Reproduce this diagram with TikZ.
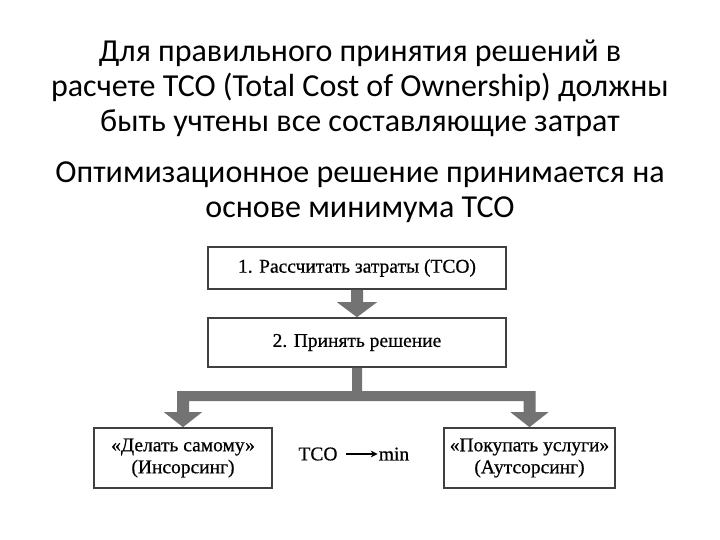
\documentclass[tikz,border=0pt]{standalone}
\usepackage{fontspec}
\setmainfont{Liberation Serif}
\newfontfamily\scanfont[FakeBold=0.6]{Liberation Serif}
\newfontfamily\titlefont{Carlito}
\usetikzlibrary{calc,arrows.meta}
\definecolor{arrowgray}{gray}{0.45}
\definecolor{boxgray}{gray}{0.25}
\begin{document}
\begin{tikzpicture}[x=1pt,y=-1pt,
  titletext/.style={font=\titlefont\fontsize{32}{35}\selectfont, align=center, inner sep=0pt},
  flowbox/.style={draw=boxgray, line width=1.6pt, minimum width=298pt, inner sep=0pt, font=\scanfont\fontsize{19.5}{23}\selectfont},
  sidebox/.style={draw=boxgray, line width=1.6pt, inner sep=0pt, align=center, font=\scanfont\fontsize{19.5}{22}\selectfont},
  bigarrow/.style={fill=arrowgray, draw=none}]
\useasboundingbox (0,0) rectangle (720,540);
\fill[white] (0,0) rectangle (720,540);
\node[titletext] (t1) at (360,88) {Для правильного принятия решений в\\расчете TCO (Total Cost of Ownership) должны\\быть учтены все составляющие затрат};
\node[titletext] (t2) at (360,192) {Оптимизационное решение принимается на\\основе минимума TCO};
\node[flowbox, minimum height=42pt] (b1) at (357,268) {1. Рассчитать затраты (TCO)};
\node[flowbox, minimum height=49pt] (b2) at (357,342.5) {2. Принять решение};
\node[sidebox, minimum width=178pt, minimum height=60pt] (b3) at (183,458) {«Делать самому»\\(Инсорсинг)};
\node[sidebox, minimum width=171pt, minimum height=60pt] (b4) at (529.5,458) {«Покупать услуги»\\(Аутсорсинг)};
\node[inner sep=1pt, font=\scanfont\fontsize{19.5}{22}\selectfont] (tco) at (318,454) {TCO};
\node[inner sep=1pt, font=\scanfont\fontsize{19.5}{22}\selectfont] (mn) at (394,454) {min};
\draw[line width=1.4pt, -{Stealth[length=7pt,width=7pt]}] ($(tco.east)+(7,0)$) -- (mn.west);
% arrow 1
\fill[bigarrow] ($(b1.south)+(-6,0)$) -- ($(b2.north)+(-6,-15)$) -- ($(b2.north)+(-20,-15)$)
  -- (b2.north) -- ($(b2.north)+(20,-15)$) -- ($(b2.north)+(6,-15)$) -- ($(b1.south)+(6,0)$) -- cycle;
% split arrow
\coordinate (s) at (b2.south);
\coordinate (l) at (b3.north);
\coordinate (r) at (b4.north);
\coordinate (sl) at ($(s)+(-5,0)$);
\coordinate (sr) at ($(s)+(5,0)$);
\coordinate (bar) at ($(l)+(0,-36)$);
\fill[bigarrow] (sl) -- (sl |- bar) -- ($(l)+(-6,-36)$) -- ($(l)+(-6,-15)$) -- ($(l)+(-19,-15)$) -- (l)
  -- ($(l)+(19,-15)$) -- ($(l)+(6,-15)$) -- ($(l)+(6,-26)$) -- ($(r)+(-6,-26)$) -- ($(r)+(-6,-15)$)
  -- ($(r)+(-19,-15)$) -- (r) -- ($(r)+(19,-15)$) -- ($(r)+(6,-15)$) -- ($(r)+(6,-36)$)
  -- (sr |- bar) -- (sr) -- cycle;
\end{tikzpicture}
\end{document}
